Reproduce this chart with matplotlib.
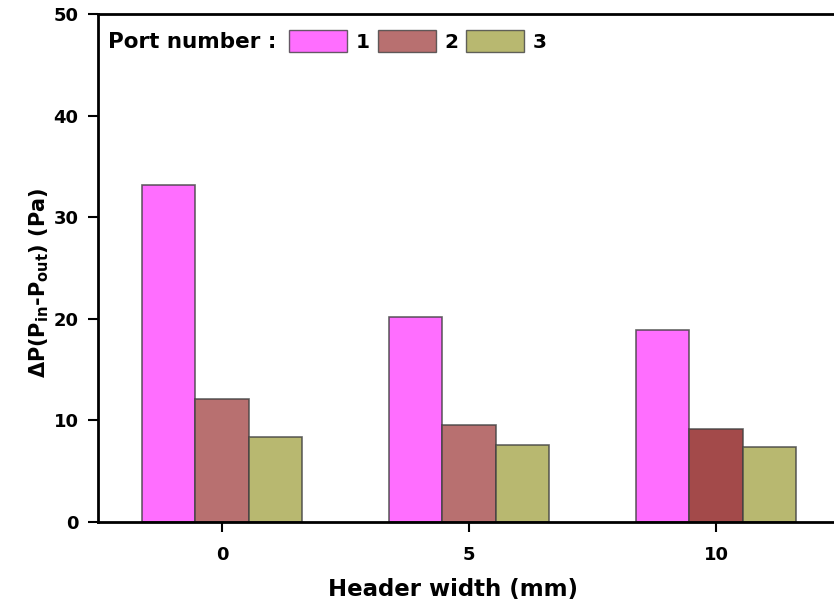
import matplotlib
matplotlib.use('Agg')
import matplotlib.pyplot as plt
import numpy as np
from matplotlib.patches import Patch

plt.rcParams['font.family'] = ['DejaVu Sans']
plt.rcParams['font.weight'] = 'bold'
plt.rcParams['mathtext.fontset'] = 'custom'
plt.rcParams['mathtext.rm'] = 'DejaVu Sans:bold'
plt.rcParams['mathtext.bf'] = 'DejaVu Sans:bold'

# data
header_width = [0, 5, 10]
port_labels = ['1', '2', '3']
port1 = [33.2, 20.15, 18.9]
port2 = [12.15, 9.5, 9.2]
port3 = [8.4, 7.6, 7.35]

pink = '#FF6EFF'
red = '#B87070'
red_dark = '#A34A4A'
olive = '#B8B870'

W, H = 834, 609
fig = plt.figure(figsize=(W / 100, H / 100), dpi=100)
ax = fig.add_axes([98 / W, 1 - 522 / H, (W - 98) / W, (522 - 14) / H])

x = np.array(header_width, dtype=float)
bw = 1.08
edge = (0.25, 0.25, 0.25, 0.8)
ax.bar(x - bw, port1, bw, color=pink, edgecolor=edge, linewidth=1.2)
ax.bar(x, port2, bw, color=[red, red, red_dark], edgecolor=edge, linewidth=1.2)
ax.bar(x + bw, port3, bw, color=olive, edgecolor=edge, linewidth=1.2)

ax.set_ylim(0, 50)
ax.set_xlim(-2.51, 12.39)
ax.set_yticks([0, 10, 20, 30, 40, 50])
ax.set_xticks(header_width)
ax.tick_params(direction='out', length=7, width=1.5, labelsize=13)
ax.tick_params(axis='y', pad=7)
ax.tick_params(axis='x', pad=10)
for s in ax.spines.values():
    s.set_linewidth(2)
ax.spines['right'].set_visible(False)

ax.set_xlabel('Header width (mm)', fontsize=16.5, fontweight='bold')
ax.xaxis.set_label_coords((453 - 98) / 736, -0.111)
ax.set_ylabel(r'ΔP(P$_{\mathbf{in}}$-P$_{\mathbf{out}}$) (Pa)', fontsize=15,
              fontweight='bold')
ax.yaxis.set_label_coords(-0.064, 0.47)

ax.text(108 / W, 1 - 42 / H, 'Port number :', transform=fig.transFigure,
        fontsize=15.5, fontweight='bold', va='center', ha='left')
handles = [Patch(facecolor=pink, edgecolor=edge),
           Patch(facecolor=red, edgecolor=edge),
           Patch(facecolor=olive, edgecolor=edge)]
fig.legend(handles, port_labels, ncol=3, loc='center left',
           bbox_to_anchor=(289 / W, 1 - 41 / H), frameon=False,
           prop={'size': 14.5, 'weight': 'bold'},
           handlelength=2.9, handleheight=1.3, handletextpad=0.4,
           columnspacing=0.4, borderpad=0, borderaxespad=0)

fig.savefig('out.png', dpi=100)
